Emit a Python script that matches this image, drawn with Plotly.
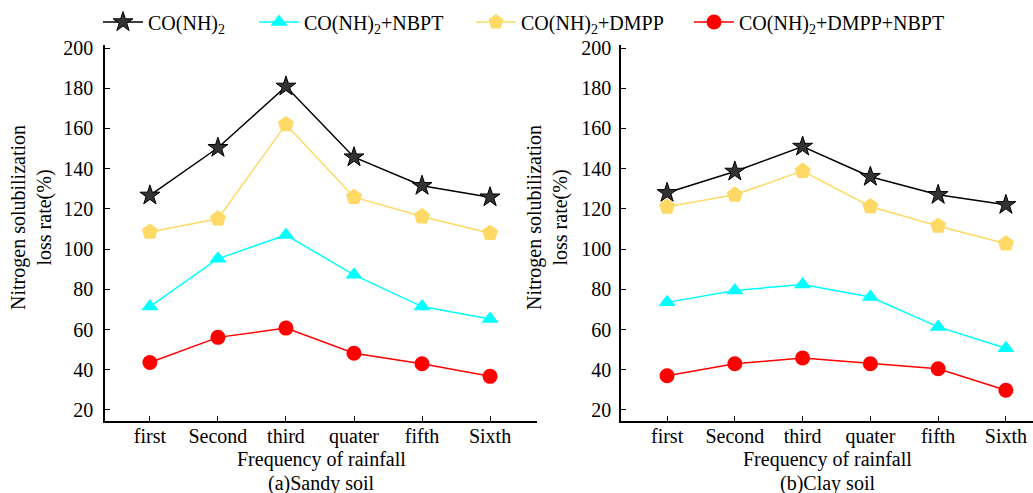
import plotly.graph_objects as go

categories = ["first", "Second", "third", "quater", "fifth", "Sixth"]
series_names = ["CO(NH)<sub>2</sub>", "CO(NH)<sub>2</sub>+NBPT",
                "CO(NH)<sub>2</sub>+DMPP", "CO(NH)<sub>2</sub>+DMPP+NBPT"]

sandy_urea = [126.7, 150.4, 180.9, 145.7, 131.5, 125.8]
sandy_nbpt = [71.4, 95.2, 107.0, 87.2, 71.4, 65.2]
sandy_dmpp = [108.5, 115.1, 162.0, 125.8, 116.2, 107.9]
sandy_both = [43.6, 56.1, 60.7, 48.2, 43.0, 36.7]

clay_urea = [128.0, 138.6, 151.0, 136.0, 127.0, 122.0]
clay_nbpt = [73.5, 79.4, 82.4, 76.2, 61.3, 50.7]
clay_dmpp = [121.0, 127.0, 138.8, 121.2, 111.5, 102.7]
clay_both = [37.0, 43.0, 45.8, 43.0, 40.5, 29.8]

y_ticks = [20, 40, 60, 80, 100, 120, 140, 160, 180, 200]

FONT = "Liberation Serif"
styles = [
    dict(color="#000000", marker=dict(symbol="star", size=15, color="#333333",
                                      line=dict(color="#000000", width=1))),
    dict(color="#00FFFF", marker=dict(symbol="triangle-up", size=15, color="#00FFFF")),
    dict(color="#FFD966", marker=dict(symbol="pentagon", size=17, color="#FFD966")),
    dict(color="#FF0000", marker=dict(symbol="circle", size=15, color="#FF0000")),
]
legend_ids = ["legend", "legend2", "legend3", "legend4"]
legend_x_px = [98, 254, 471, 689]

fig = go.Figure()
panels = [
    ("x", "y", [sandy_urea, sandy_nbpt, sandy_dmpp, sandy_both], True),
    ("x2", "y2", [clay_urea, clay_nbpt, clay_dmpp, clay_both], False),
]
for xa, ya, data, show in panels:
    for name, vals, st, lg in zip(series_names, data, styles, legend_ids):
        fig.add_trace(go.Scatter(
            x=categories, y=vals, name=name, mode="lines+markers",
            xaxis=xa, yaxis=ya, showlegend=show, legend=lg,
            line=dict(color=st["color"], width=1.5),
            marker=st["marker"],
        ))

axis_common = dict(showline=True, linecolor="#000000", linewidth=1.5,
                   showgrid=False, zeroline=False, ticks="inside",
                   ticklen=5, tickcolor="#000000",
                   tickfont=dict(family=FONT, size=20, color="#000000"))

legend_common = dict(orientation="h", yanchor="middle", y=1.061, xanchor="left",
                     xref="paper", font=dict(family=FONT, size=20, color="#000000"),
                     bgcolor="rgba(0,0,0,0)", itemwidth=40)

fig.update_layout(
    width=1033, height=493,
    margin=dict(l=0, r=0, t=45, b=72),
    plot_bgcolor="white", paper_bgcolor="white",
    font=dict(family=FONT, size=20, color="#000000"),
    xaxis=dict(domain=[105/1033, 537/1033], type="category",
               range=[-0.66, 5.69], anchor="y", ticklabelstandoff=-4, **axis_common),
    yaxis=dict(domain=[0, 1], range=[14.5, 201.5], tickvals=y_ticks,
               anchor="x", ticklabelstandoff=6, **axis_common),
    xaxis2=dict(domain=[621/1033, 1.0], type="category",
                range=[-0.68, 5.4], anchor="y2", ticklabelstandoff=-4, **axis_common),
    yaxis2=dict(domain=[0, 1], range=[14.5, 201.5], tickvals=y_ticks,
                anchor="x2", ticklabelstandoff=4, **axis_common),
    showlegend=True,
)
for lg, px in zip(legend_ids, legend_x_px):
    fig.update_layout({lg: dict(x=px / 1033, **legend_common)})

annos = [
    dict(x=321/1033, y=-38, text="Frequency of rainfall"),
    dict(x=321/1033, y=-62, text="(a)Sandy soil"),
    dict(x=827/1033, y=-38, text="Frequency of rainfall"),
    dict(x=827/1033, y=-62, text="(b)Clay soil"),
]
for a in annos:
    fig.add_annotation(x=a["x"], y=0, xref="paper", yref="paper", yshift=a["y"],
                       xanchor="center", yanchor="middle",
                       text=a["text"], showarrow=False,
                       font=dict(family=FONT, size=20, color="#000000"))

for xc in [32/1033, 548/1033]:
    fig.add_annotation(x=xc, y=0.54, xref="paper", yref="paper",
                       xanchor="center", yanchor="middle",
                       text="Nitrogen solubilization<br>loss rate(%)",
                       textangle=-90, showarrow=False,
                       font=dict(family=FONT, size=20, color="#000000"))

fig.write_html("out.html")
